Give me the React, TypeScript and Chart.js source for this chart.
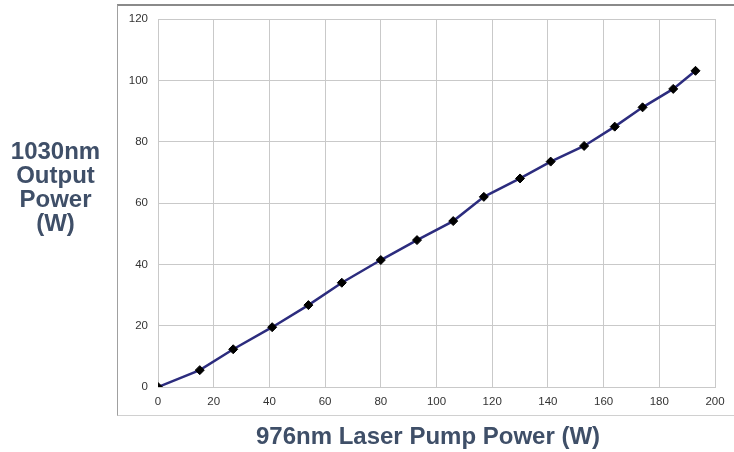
import React, { useEffect, useRef } from "react";
import { Chart, registerables } from "chart.js";

Chart.register(...registerables);

// Pump power (W) vs. 1030nm output power (W)
const pumpPower = [0, 15, 27, 41, 54, 66, 80, 93, 106, 117, 130, 141, 153, 164, 174, 185, 193];
const outputPower = [0, 5.5, 12.3, 19.5, 26.7, 34.0, 41.4, 47.9, 54.1, 62.0, 68.0, 73.5, 78.6, 84.9, 91.2, 97.2, 103.1];

const xTitle = "976nm Laser Pump Power (W)";
const yTitleLines = ["1030nm", "Output", "Power", "(W)"];

const titleColor = "#3f4f68";
const fontFamily = "'Liberation Sans', Arial, Helvetica, sans-serif";

export default function App() {
  const canvasRef = useRef<HTMLCanvasElement | null>(null);

  useEffect(() => {
    const ctx = canvasRef.current;
    if (!ctx) return;
    const chart = new Chart(ctx, {
      type: "line",
      data: {
        datasets: [
          {
            data: pumpPower.map((x, i) => ({ x, y: outputPower[i] })),
            borderColor: "#2c2c7e",
            borderWidth: 2.5,
            tension: 0,
            pointStyle: "rectRot",
            pointRadius: 4.5,
            pointBackgroundColor: "#000000",
            pointBorderColor: "#000000",
            pointBorderWidth: 1,
          },
        ],
      },
      options: {
        responsive: false,
        animation: false,
        layout: { padding: { top: 19, right: 19, left: 0, bottom: 0 } },
        plugins: { legend: { display: false }, tooltip: { enabled: false } },
        scales: {
          x: {
            type: "linear",
            min: 0,
            max: 200,
            ticks: {
              stepSize: 20,
              padding: 8,
              color: "#333333",
              font: { family: fontFamily, size: 11.5 },
            },
            grid: { color: "#c9c9c9", drawTicks: false },
            border: { color: "#c9c9c9" },
            afterFit: (scale: any) => {
              scale.height = 65;
            },
          },
          y: {
            min: 0,
            max: 120,
            ticks: {
              stepSize: 20,
              padding: 10,
              color: "#333333",
              font: { family: fontFamily, size: 11.5 },
            },
            grid: { color: "#c9c9c9", drawTicks: false },
            border: { color: "#c9c9c9" },
            afterFit: (scale: any) => {
              scale.width = 158;
            },
          },
        },
      },
      plugins: [
        {
          id: "frameTop",
          afterDraw(c: any) {
            const { ctx: g, chartArea: a } = c;
            g.save();
            g.strokeStyle = "#c9c9c9";
            g.lineWidth = 1;
            g.beginPath();
            g.moveTo(a.left, a.top + 0.5);
            g.lineTo(a.right, a.top + 0.5);
            g.moveTo(a.right + 0.5, a.top);
            g.lineTo(a.right + 0.5, a.bottom);
            g.stroke();
            g.restore();
          },
        },
      ],
    } as any);
    return () => chart.destroy();
  }, []);

  const titleStyle: React.CSSProperties = {
    position: "absolute",
    fontFamily,
    fontWeight: "bold",
    fontSize: 24,
    lineHeight: "24px",
    color: titleColor,
    textAlign: "center",
    whiteSpace: "nowrap",
  };

  return (
    <div
      style={{
        position: "fixed",
        left: 0,
        top: 0,
        width: 734,
        height: 452,
        background: "#ffffff",
        overflow: "hidden",
      }}
    >
      <div
        style={{
          position: "absolute",
          left: 117,
          top: 4,
          width: 640,
          height: 409,
          borderLeft: "1px solid #a0a0a0",
          borderBottom: "1px solid #d0d0d0",
          borderTop: "2px solid #8a8a8a",
        }}
      />
      <canvas
        ref={canvasRef}
        width={734}
        height={452}
        style={{ position: "absolute", left: 0, top: 0 }}
      />
      <div style={{ ...titleStyle, left: 0, top: 139, width: 111 }}>
        {yTitleLines.map((line) => (
          <div key={line}>{line}</div>
        ))}
      </div>
      <div style={{ ...titleStyle, left: 228, top: 424, width: 400 }}>{xTitle}</div>
    </div>
  );
}
